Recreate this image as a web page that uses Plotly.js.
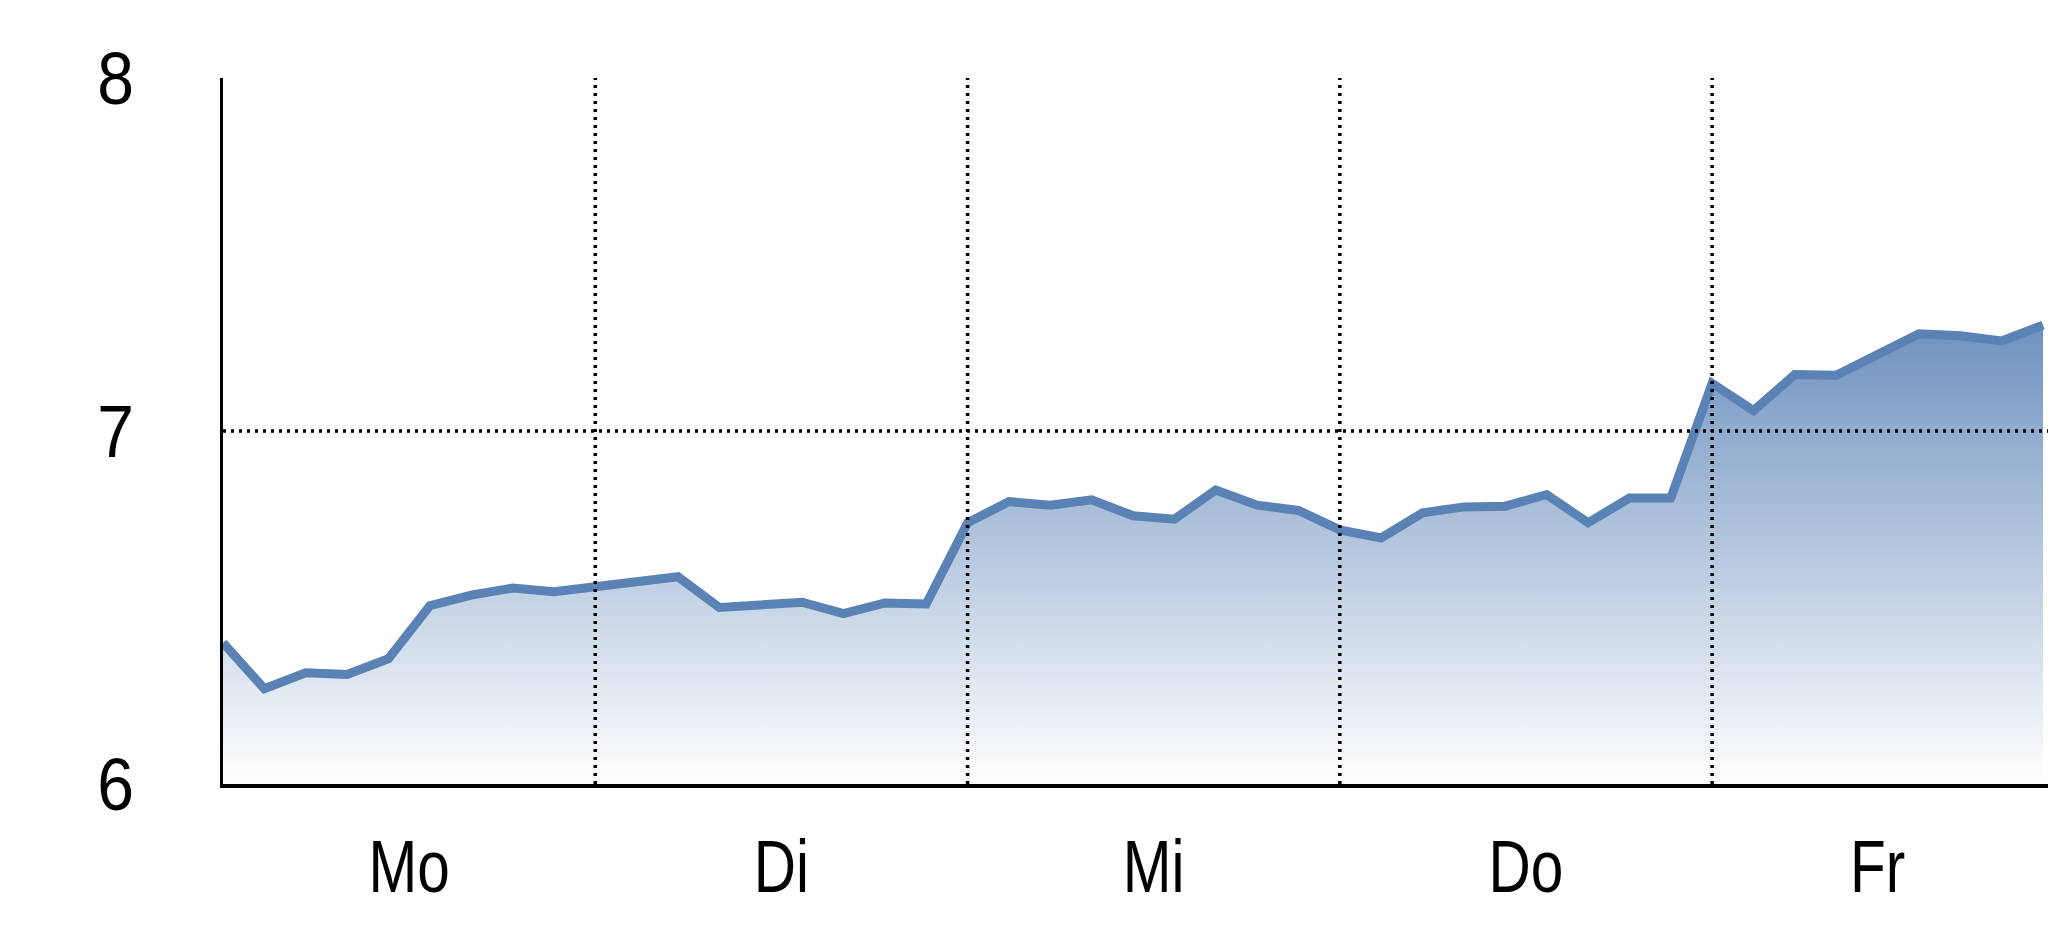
<!DOCTYPE html>
<html>
<head>
<meta charset="utf-8">
<script src="https://cdn.plot.ly/plotly-3.0.1.min.js"></script>
<style>
  html, body { margin: 0; padding: 0; background: #fff; }
  #grafico { width: 2048px; height: 937px; }
</style>
</head>
<body>
<div id="grafico"></div>
<script>
// Werte (9 Messungen pro Tag)
var werte = [
  6.40, 6.27, 6.315, 6.31, 6.355, 6.505, 6.535, 6.555, 6.545,
  6.56, 6.572, 6.587, 6.50, 6.505, 6.515, 6.483, 6.513, 6.51,
  6.74, 6.80, 6.79, 6.805, 6.76, 6.75, 6.833, 6.79, 6.775,
  6.72, 6.697, 6.768, 6.785, 6.787, 6.82, 6.74, 6.81, 6.81,
  7.135, 7.058, 7.16, 7.158, 7.215, 7.275, 7.27, 7.255, 7.30
];
var tage = ["Mo", "Di", "Mi", "Do", "Fr"];
var tag_pos = [4.5, 13.5, 22.5, 31.5, 40];
var tag_grenzen = [9, 18, 27, 36];
var y_ticks = [6, 7, 8];
var y_gitter = [7];

var equis = [];
for (let i = 0; i < werte.length; i++) {
  equis.push(i);
}

var schrift = "'Liberation Sans Narrow', 'Arial Narrow', 'Liberation Sans', Arial, sans-serif";

var trace1 = {
  x: equis,
  y: werte,
  type: 'scatter',
  mode: 'lines',
  line: { color: '#5a82b4', width: 9 },
  fill: 'tozeroy',
  fillgradient: {
    type: 'vertical',
    start: 6,
    stop: 7.3,
    colorscale: [[0, 'rgb(255,255,255)'], [1, 'rgb(110,146,191)']]
  },
  hoverinfo: 'skip'
};

// gepunktete Gitterlinien ueber der Flaeche
var punkte = { color: '#000', width: 3.5, dash: '3px,5px' };
var linien = [];
for (let i = 0; i < tag_grenzen.length; i++) {
  linien.push({
    type: 'line', layer: 'above',
    xref: 'x', yref: 'paper',
    x0: tag_grenzen[i], x1: tag_grenzen[i], y0: 0, y1: 1,
    line: punkte
  });
}
for (let i = 0; i < y_gitter.length; i++) {
  linien.push({
    type: 'line', layer: 'above',
    xref: 'paper', yref: 'y',
    x0: 0, x1: 1, y0: y_gitter[i], y1: y_gitter[i],
    line: punkte
  });
}

var layout = {
  width: 2048,
  height: 937,
  margin: { l: 223, r: 0, t: 78, b: 153 },
  paper_bgcolor: '#fff',
  plot_bgcolor: '#fff',
  showlegend: false,
  font: { family: schrift, size: 75, color: '#000' },
  shapes: linien,
  xaxis: {
    range: [0, 44.12],
    tickmode: 'array',
    tickvals: tag_pos,
    ticktext: tage,
    ticks: 'outside',
    ticklen: 14,
    tickcolor: 'rgba(0,0,0,0)',
    showgrid: false,
    zeroline: false,
    showline: true,
    linecolor: '#000',
    linewidth: 4,
    layer: 'above traces',
    fixedrange: true
  },
  yaxis: {
    range: [6, 8],
    tickmode: 'array',
    tickvals: y_ticks,
    ticktext: y_ticks.map(String),
    ticks: 'outside',
    ticklen: 71,
    tickcolor: 'rgba(0,0,0,0)',
    showgrid: false,
    zeroline: false,
    showline: true,
    linecolor: '#000',
    linewidth: 3,
    layer: 'above traces',
    fixedrange: true
  }
};

// Beschriftung schmaler machen (wie Narrow-Schrift)
function schmal(selector, faktor) {
  var texte = document.querySelectorAll(selector);
  for (let i = 0; i < texte.length; i++) {
    const t = texte[i];
    var breite = t.getComputedTextLength();
    t.setAttribute("textLength", breite * faktor);
    t.setAttribute("lengthAdjust", "spacingAndGlyphs");
  }
}

Plotly.newPlot("grafico", [trace1], layout, { staticPlot: true }).then(function () {
  schmal("#grafico .xtick text", 0.78);
  schmal("#grafico .ytick text", 0.88);
});
</script>
</body>
</html>
